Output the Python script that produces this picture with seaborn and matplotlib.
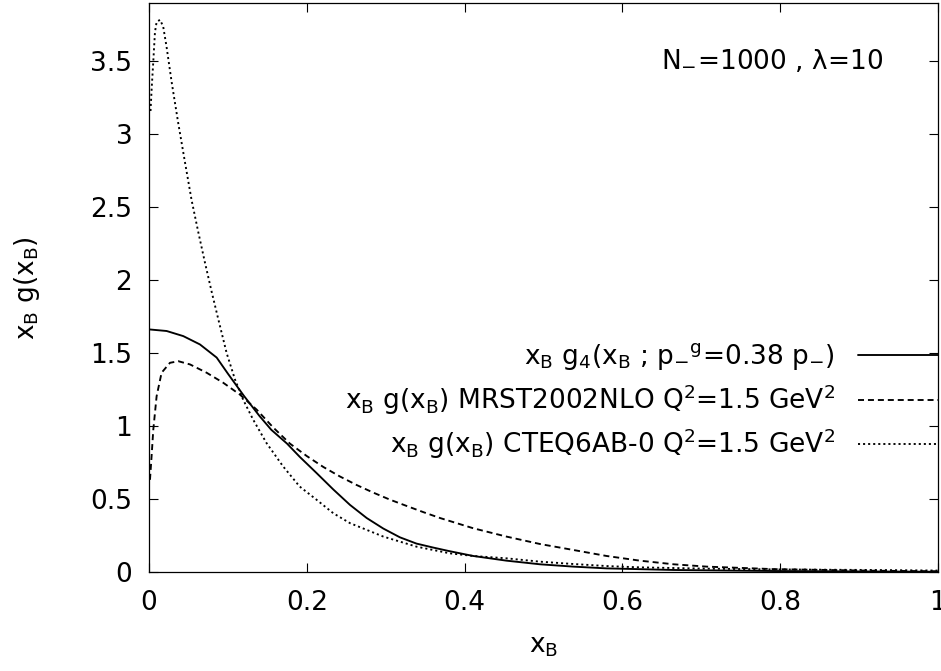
import matplotlib
matplotlib.use("Agg")
import matplotlib.pyplot as plt
from matplotlib.ticker import FormatStrFormatter
import seaborn as sns

# ------------------------------------------------------------
# values
# ------------------------------------------------------------
x_g4 = [0.0, 0.0224, 0.0435, 0.0646, 0.0858, 0.10, 0.12, 0.14, 0.155, 0.175,
        0.191, 0.2125, 0.2336, 0.2548, 0.276, 0.297, 0.318, 0.339, 0.36,
        0.38, 0.411, 0.453, 0.4956, 0.538, 0.58, 0.665, 0.79, 0.9, 1.0]
y_g4 = [1.663, 1.652, 1.617, 1.56, 1.47, 1.36, 1.21, 1.07, 0.975, 0.88,
        0.79, 0.678, 0.566, 0.46, 0.37, 0.298, 0.238, 0.195, 0.168,
        0.144, 0.11, 0.078, 0.053, 0.037, 0.025, 0.014, 0.007, 0.004, 0.002]

x_mrst = [0.0013, 0.0034, 0.0055, 0.0097, 0.016, 0.0266, 0.0372, 0.052,
          0.0731, 0.0942, 0.1153, 0.1365, 0.1576, 0.1787, 0.2, 0.221, 0.242,
          0.263, 0.284, 0.305, 0.327, 0.348, 0.369, 0.411, 0.453, 0.4956,
          0.538, 0.58, 0.622, 0.665, 0.707, 0.791, 0.918, 1.0]
y_mrst = [0.632, 0.80, 0.976, 1.205, 1.366, 1.434, 1.445, 1.423,
          1.366, 1.297, 1.216, 1.113, 0.99, 0.88, 0.795, 0.72, 0.655,
          0.597, 0.545, 0.497, 0.452, 0.41, 0.37, 0.30, 0.243, 0.192,
          0.151, 0.11, 0.078, 0.053, 0.037, 0.02, 0.009, 0.005]

x_cteq = [0.002, 0.0034, 0.0055, 0.0076, 0.0097, 0.014, 0.018, 0.0223,
          0.0287, 0.037, 0.0456, 0.054, 0.0625, 0.071, 0.0795, 0.088,
          0.0985, 0.109, 0.1195, 0.132, 0.149, 0.170, 0.191, 0.2125, 0.2336,
          0.2548, 0.297, 0.339, 0.3815, 0.411, 0.453, 0.4956, 0.538, 0.58,
          0.622, 0.707, 0.791, 0.918, 1.0]
y_cteq = [3.16, 3.31, 3.50, 3.70, 3.77, 3.785, 3.74, 3.60,
          3.36, 3.08, 2.81, 2.55, 2.33, 2.12, 1.92, 1.73,
          1.50, 1.32, 1.18, 1.045, 0.884, 0.724, 0.586, 0.495, 0.403,
          0.335, 0.243, 0.174, 0.128, 0.11, 0.094, 0.071, 0.055, 0.041,
          0.032, 0.023, 0.018, 0.014, 0.01]

lab_g4 = r"x$_\mathrm{B}$ g$_4$(x$_\mathrm{B}$ ; p$_{-}{}^\mathrm{g}$=0.38 p$_{-}$)"
lab_mrst = r"x$_\mathrm{B}$ g(x$_\mathrm{B}$) MRST2002NLO Q$^2$=1.5 GeV$^2$"
lab_cteq = r"x$_\mathrm{B}$ g(x$_\mathrm{B}$) CTEQ6AB-0 Q$^2$=1.5 GeV$^2$"

x_ticks = [0, 0.2, 0.4, 0.6, 0.8, 1.0]
y_ticks = [0, 0.5, 1, 1.5, 2, 2.5, 3, 3.5]

# ------------------------------------------------------------
# style
# ------------------------------------------------------------
FS = 19
sns.set_style("ticks")
plt.rcParams["font.family"] = ["DejaVu Sans"]
plt.rcParams["mathtext.fontset"] = "dejavusans"
plt.rcParams["font.size"] = FS
plt.rcParams["text.color"] = "black"
plt.rcParams["axes.labelcolor"] = "black"
plt.rcParams["xtick.color"] = "black"
plt.rcParams["ytick.color"] = "black"

fig, ax = plt.subplots(figsize=(9.41, 6.71), dpi=100)
fig.subplots_adjust(left=0.1583, right=0.9968, bottom=0.1475, top=0.9955)

sns.lineplot(x=x_g4, y=y_g4, ax=ax, color="black", lw=1.35,
             sort=False, estimator=None, label=lab_g4)
sns.lineplot(x=x_mrst, y=y_mrst, ax=ax, color="black", lw=1.35,
             linestyle=(0, (3.2, 2.1)), sort=False, estimator=None, label=lab_mrst)
sns.lineplot(x=x_cteq, y=y_cteq, ax=ax, color="black", lw=1.35,
             linestyle=(0, (1.1, 1.6)), sort=False, estimator=None, label=lab_cteq)

ax.set_xlim(0, 1)
ax.set_ylim(0, 3.9)
ax.set_xticks(x_ticks)
ax.set_yticks(y_ticks)
ax.xaxis.set_major_formatter(FormatStrFormatter("%g"))
ax.yaxis.set_major_formatter(FormatStrFormatter("%g"))
ax.tick_params(direction="in", top=True, right=True, length=6.5, width=0.8,
               labelsize=FS, colors="black")
ax.tick_params(axis="x", pad=13)
ax.tick_params(axis="y", pad=12)
for sp in ax.spines.values():
    sp.set_linewidth(0.9)
    sp.set_color("black")

ax.set_xlabel(r"x$_\mathrm{B}$", fontsize=FS)
ax.set_ylabel(r"x$_\mathrm{B}$ g(x$_\mathrm{B}$)", fontsize=FS)
ax.xaxis.set_label_coords(0.5, -0.108)
ax.yaxis.set_label_coords(-0.1356, 0.5)

ax.text(0.93, 3.5, "N$_{-}$=1000 , \u03bb=10", ha="right", va="center", fontsize=FS)

leg = ax.legend(loc="center right", bbox_to_anchor=(1.0, 0.300),
                markerfirst=False, frameon=False, handlelength=3.03,
                handletextpad=0.87, borderpad=0, borderaxespad=0,
                labelspacing=0.38, fontsize=FS)

plt.savefig("out.png", dpi=100)
